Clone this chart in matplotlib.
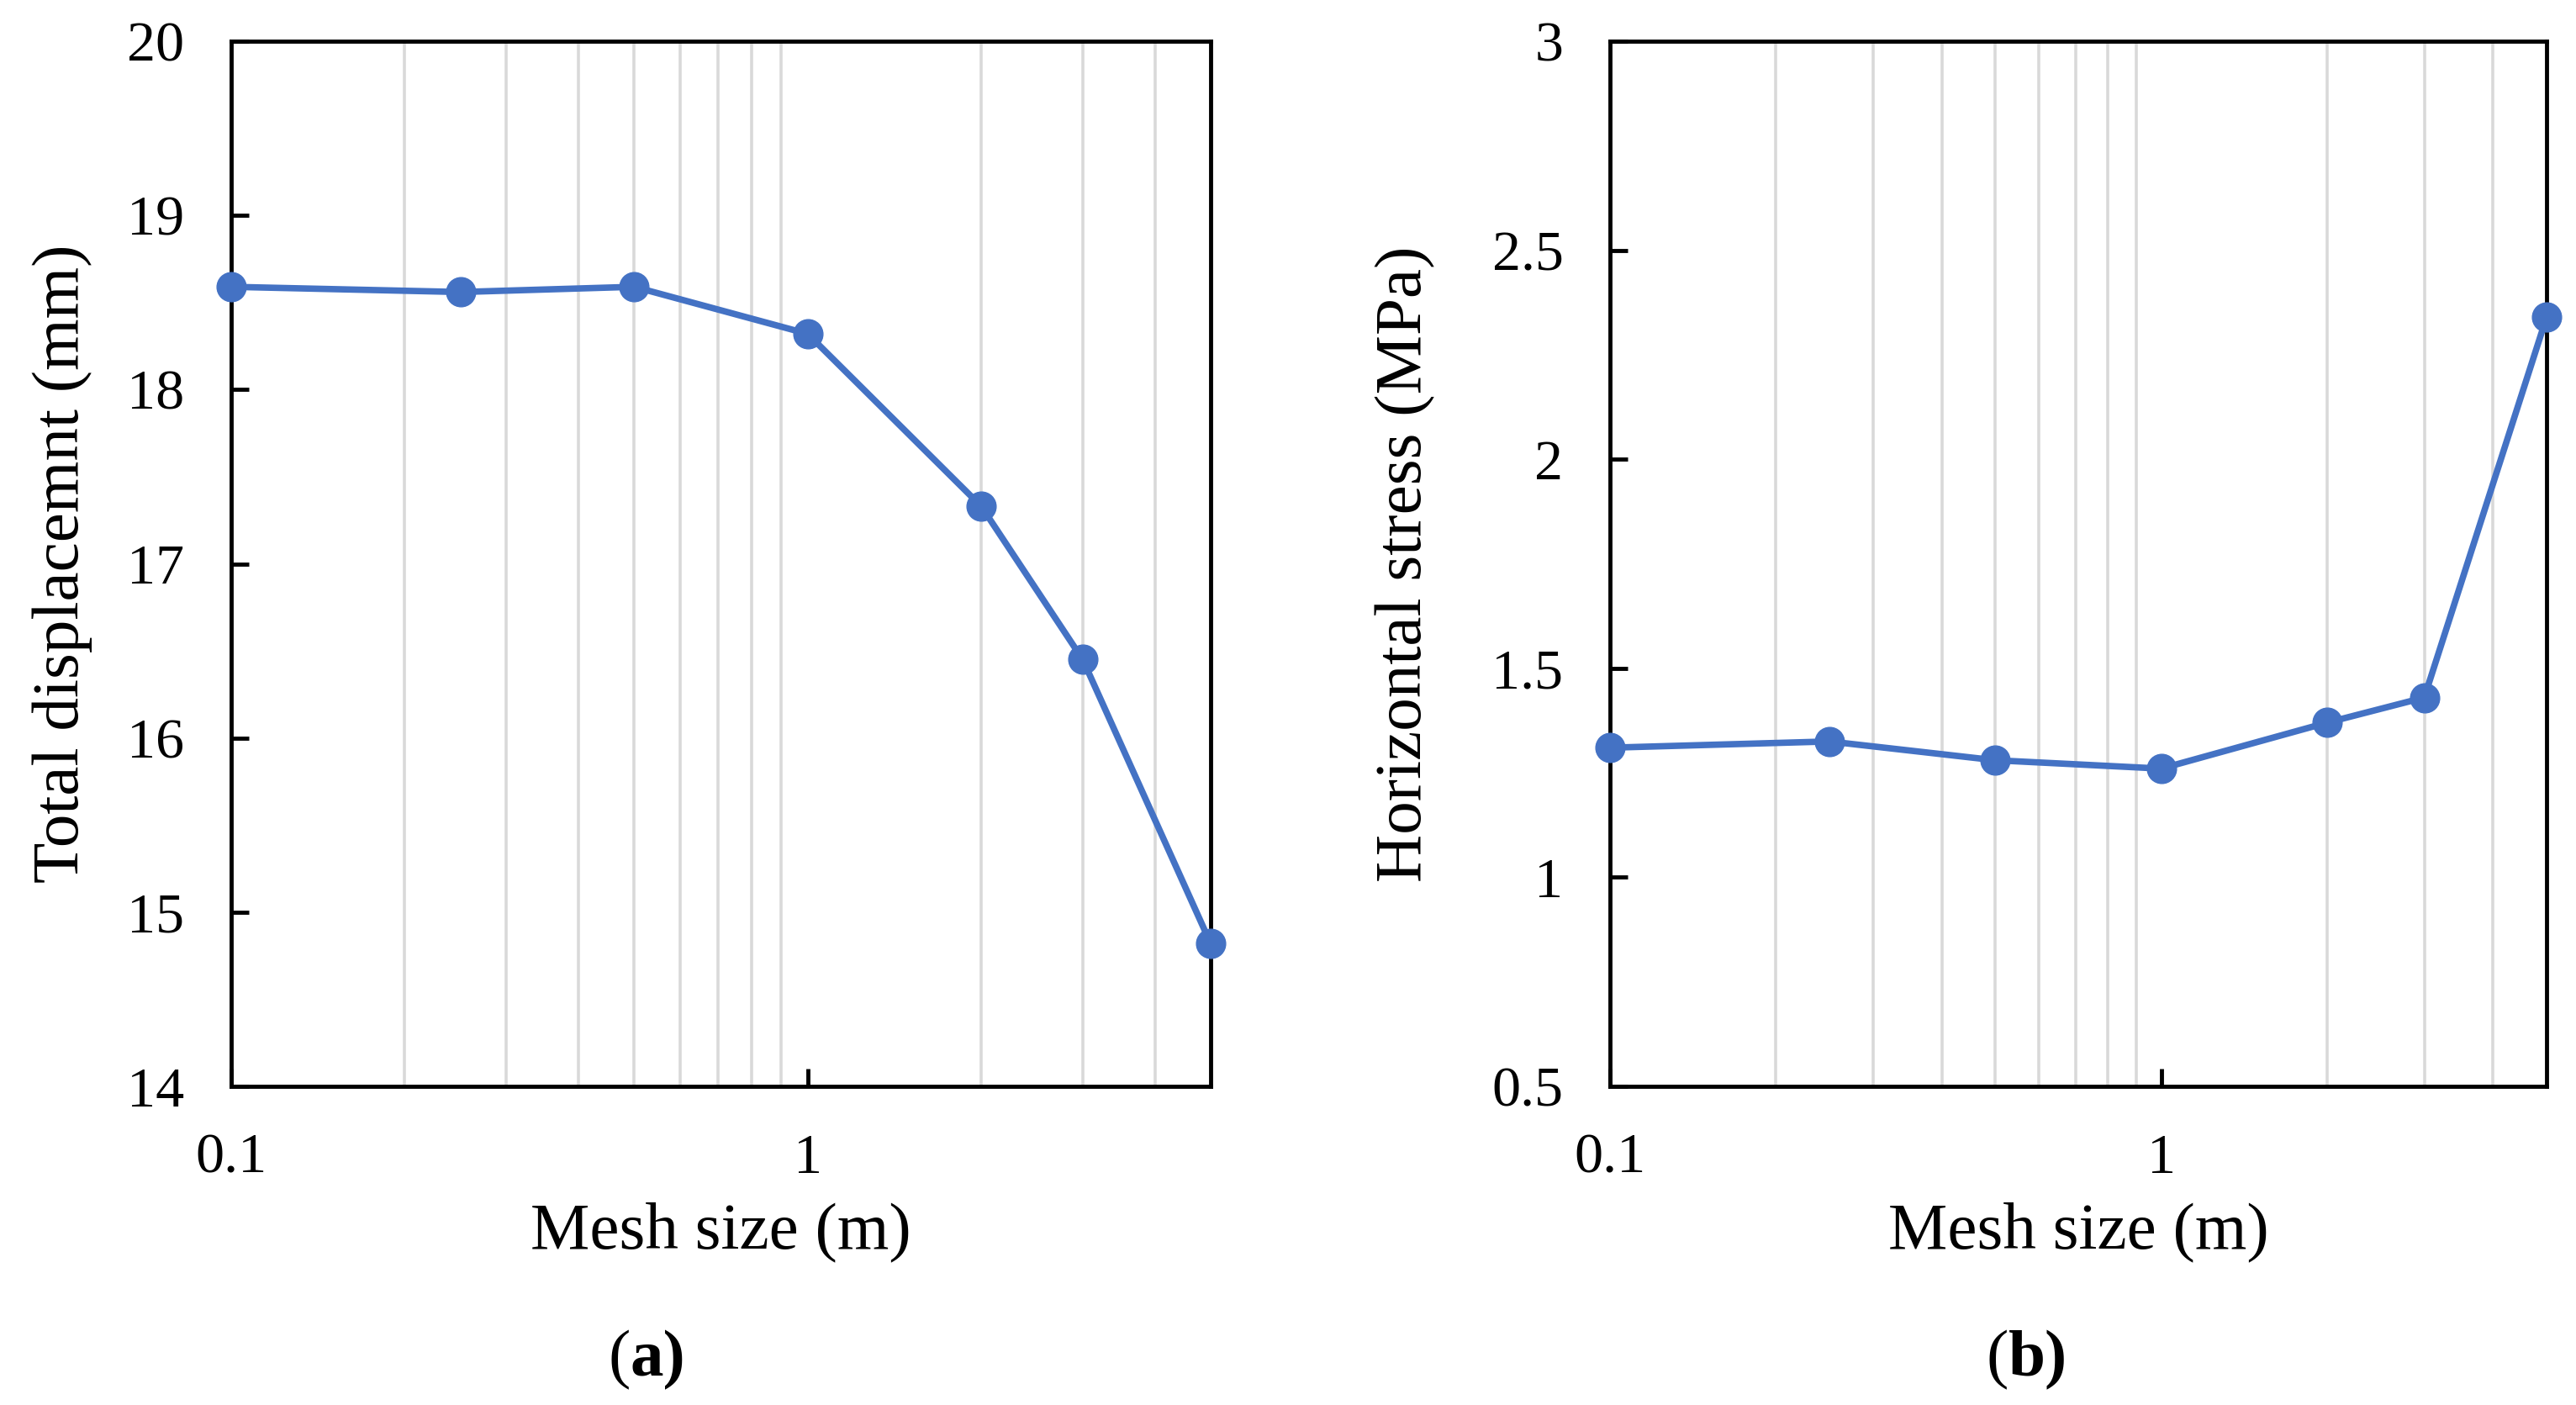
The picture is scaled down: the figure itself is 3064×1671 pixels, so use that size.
import matplotlib
matplotlib.use("Agg")
import matplotlib.pyplot as plt
from matplotlib.ticker import FixedLocator, NullFormatter

plt.rcParams['font.family'] = ['Liberation Serif', 'DejaVu Serif']

mesh_size = [0.1, 0.25, 0.5, 1, 2, 3, 5]
total_disp = [18.59, 18.56, 18.59, 18.32, 17.33, 16.45, 14.82]
horiz_stress = [1.31, 1.325, 1.28, 1.26, 1.37, 1.43, 2.34]

grid_x = [0.2, 0.3, 0.4, 0.5, 0.6, 0.7, 0.8, 0.9, 2, 3, 4]

W, H = 3064, 1671
fig = plt.figure(figsize=(W / 100, H / 100), dpi=100)

color = '#4472C4'

def make(ax_rect, y, ylim, yticks, yticklabels, ylabel, ylabelpad, tag, tagx):
    ax = fig.add_axes(ax_rect)
    ax.set_xscale('log')
    ax.set_xlim(0.1, 5)
    ax.set_ylim(*ylim)
    for gx in grid_x:
        ax.axvline(gx, color='#D9D9D9', lw=2.6, zorder=0)
    ax.plot(mesh_size, y, color=color, lw=5.5, marker='o', markersize=25,
            clip_on=False, zorder=5)
    ax.xaxis.set_major_locator(FixedLocator([0.1, 1]))
    ax.set_xticklabels(['0.1', '1'])
    ax.xaxis.set_minor_locator(FixedLocator([]))
    ax.xaxis.set_minor_formatter(NullFormatter())
    ax.set_yticks(yticks)
    ax.set_yticklabels(yticklabels)
    ax.tick_params(axis='both', direction='in', length=15, width=3.5,
                   labelsize=49, pad=40)
    for s in ax.spines.values():
        s.set_linewidth(3.5)
        s.set_color('black')
    ax.set_xlabel('Mesh size (m)', fontsize=57, labelpad=15)
    ax.set_ylabel(ylabel, fontsize=57, labelpad=ylabelpad)
    fig.text(tagx, 1 - 1618 / H, '(', fontsize=57, ha='right', va='center')
    fig.text(tagx, 1 - 1618 / H, tag, fontsize=57, ha='left', va='center',
             fontweight='bold')
    return ax

def rect(l, r, t, b):
    return [l / W, 1 - b / H, (r - l) / W, (b - t) / H]

ax1 = make(rect(275, 1440, 49, 1292), total_disp, (14, 20),
           [14, 15, 16, 17, 18, 19, 20],
           ['14', '15', '16', '17', '18', '19', '20'],
           'Total displacemnt (mm)', 30, 'a)', 750 / W)
ax2 = make(rect(1915, 3029, 49, 1292), horiz_stress, (0.5, 3),
           [0.5, 1, 1.5, 2, 2.5, 3],
           ['0.5', '1', '1.5', '2', '2.5', '3'],
           'Horizontal stress (MPa)', 48, 'b)', 2389 / W)

fig.savefig('out.png', dpi=100)
